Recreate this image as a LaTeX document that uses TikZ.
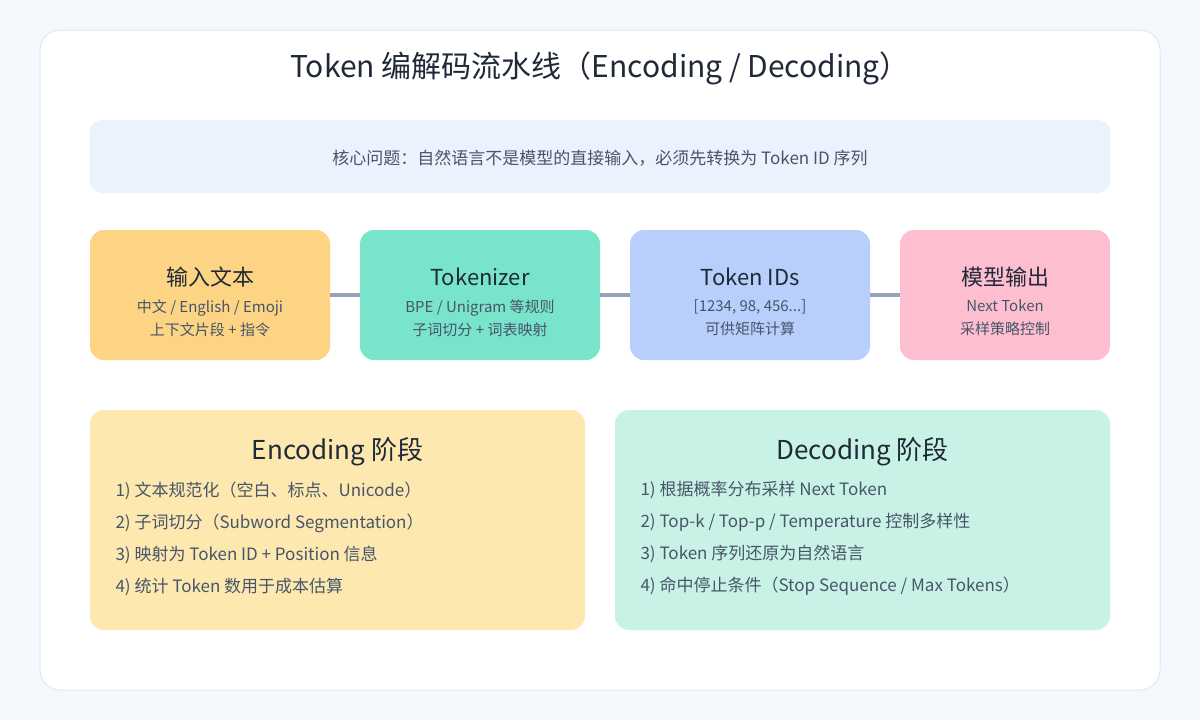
\documentclass[tikz,border=0pt]{standalone}
\usepackage{fontspec}
\setmainfont{Noto Sans CJK SC}
\usetikzlibrary{positioning}
\definecolor{pagebg}{HTML}{F5F8FC}
\definecolor{cardline}{HTML}{E2E8F0}
\definecolor{bannerbg}{HTML}{EBF2FE}
\definecolor{inbox}{HTML}{FDD483}
\definecolor{tokbox}{HTML}{79E4CC}
\definecolor{idbox}{HTML}{B8CFFC}
\definecolor{outbox}{HTML}{FDBFD0}
\definecolor{encbox}{HTML}{FDE8B0}
\definecolor{decbox}{HTML}{C9F2E6}
\definecolor{ink}{HTML}{1F2937}
\definecolor{subink}{HTML}{475569}
\definecolor{linkgray}{HTML}{94A3B8}
\tikzset{
  stagebox/.style={rounded corners=14pt, minimum height=130pt, inner sep=0pt},
  phasebox/.style={rounded corners=14pt, minimum width=495pt, minimum height=220pt, inner sep=0pt},
  headtext/.style={text=ink, font=\fontsize{22}{26}\selectfont},
  subtext/.style={text=subink, font=\fontsize{15}{23}\selectfont, align=center},
  steptext/.style={text=subink, font=\fontsize{17}{32}\selectfont, align=left},
  link/.style={draw=linkgray, line width=4pt}
}
\begin{document}
\begin{tikzpicture}[x=1pt,y=-1pt]
\fill[pagebg] (0,0) rectangle (1200,720);
\useasboundingbox (0,0) rectangle (1200,720);
\filldraw[draw=cardline, fill=white, line width=1pt, rounded corners=20pt] (40,30) rectangle (1160,690);
\node[text=ink, font=\fontsize{30}{34}\selectfont] (title) at (600,68) {Token 编解码流水线（Encoding / Decoding）};
\fill[bannerbg, rounded corners=12pt] (90,120) rectangle (1110,193);
\node[text=subink, font=\fontsize{17}{20}\selectfont] (banner) at (600,158) {核心问题：自然语言不是模型的直接输入，必须先转换为 Token ID 序列};

% pipeline
\node[stagebox, fill=inbox, minimum width=240pt] (input) at (210,295) {};
\node[stagebox, fill=tokbox, minimum width=240pt] (tok) at (480,295) {};
\node[stagebox, fill=idbox, minimum width=240pt] (ids) at (750,295) {};
\node[stagebox, fill=outbox, minimum width=210pt] (output) at (1005,295) {};
\draw[link] (input.east) -- (tok.west);
\draw[link] (tok.east) -- (ids.west);
\draw[link] (ids.east) -- (output.west);

\node[headtext] at (210,277) {输入文本};
\node[subtext] at (210,318) {中文 / English / Emoji\\上下文片段 + 指令};
\node[headtext] at (480,277) {Tokenizer};
\node[subtext] at (480,318) {BPE / Unigram 等规则\\子词切分 + 词表映射};
\node[headtext] at (750,277) {Token IDs};
\node[subtext] at (750,318) {[1234, 98, 456...]\\可供矩阵计算};
\node[headtext] at (1005,277) {模型输出};
\node[subtext] at (1005,318) {Next Token\\采样策略控制};

% phases
\node[phasebox, fill=encbox] (enc) at (337.5,520) {};
\node[phasebox, fill=decbox] (dec) at (862.5,520) {};
\node[headtext, font=\fontsize{26}{30}\selectfont] at (337.5,452) {Encoding 阶段};
\node[headtext, font=\fontsize{26}{30}\selectfont] at (862.5,452) {Decoding 阶段};
\node[steptext, anchor=north west] at (112,478) {1) 文本规范化（空白、标点、Unicode）\\2) 子词切分（Subword Segmentation）\\3) 映射为 Token ID + Position 信息\\4) 统计 Token 数用于成本估算};
\node[steptext, anchor=north west] at (637,478) {1) 根据概率分布采样 Next Token\\2) Top-k / Top-p / Temperature 控制多样性\\3) Token 序列还原为自然语言\\4) 命中停止条件（Stop Sequence / Max Tokens）};
\end{tikzpicture}
\end{document}
